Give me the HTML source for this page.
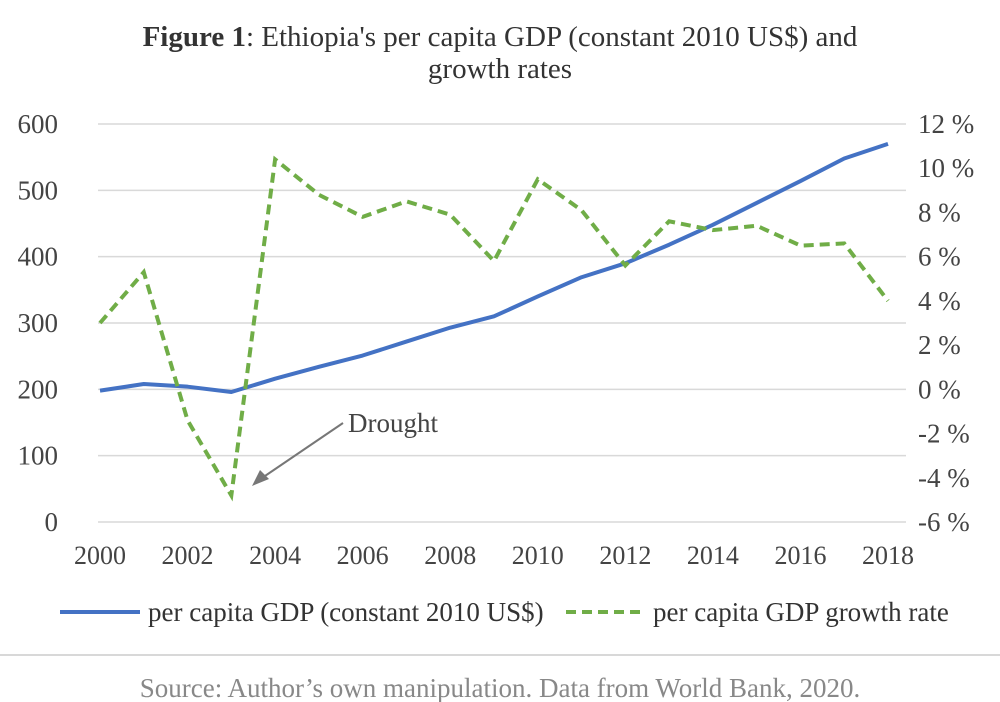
<!DOCTYPE html>
<html><head><meta charset="utf-8"><style>
body{margin:0;background:#fff;}
svg{display:block;font-family:"Liberation Serif",serif;}
</style></head><body>
<svg id="chart" width="1000" height="702">
<text x="500" y="46" text-anchor="middle" font-size="29" fill="#333"><tspan font-weight="bold">Figure 1</tspan>: Ethiopia's per capita GDP (constant 2010 US$) and</text>
<text x="500" y="78" text-anchor="middle" font-size="29" fill="#333">growth rates</text>
<g id="grid"></g><g id="axes"></g><g id="series"></g>
<text x="348" y="432" font-size="27" fill="#444">Drought</text>
<line x1="343" y1="423" x2="262" y2="478" stroke="#777" stroke-width="2"/>
<polygon points="252,486 260,470 269,479" fill="#777"/>
<line x1="60" y1="612" x2="140" y2="612" stroke="#4472c4" stroke-width="4"/>
<text x="148" y="621" font-size="27" fill="#333">per capita GDP (constant 2010 US$)</text>
<line x1="566" y1="612" x2="646" y2="612" stroke="#70ad47" stroke-width="4" stroke-dasharray="10,6"/>
<text x="653" y="621" font-size="27" fill="#333">per capita GDP growth rate</text>
<line x1="0" y1="655" x2="1000" y2="655" stroke="#ccc" stroke-width="1.5"/>
<text x="500" y="697" text-anchor="middle" font-size="27" fill="#888">Source: Author’s own manipulation. Data from World Bank, 2020.</text>
</svg>
<script>
const years=[2000,2001,2002,2003,2004,2005,2006,2007,2008,2009,2010,2011,2012,2013,2014,2015,2016,2017,2018];
const gdp=[198,208,204,196,216,234,251,272,293,310,340,369,390,418,448,481,514,548,570];
const growth=[3.0,5.3,-1.4,-4.8,10.4,8.8,7.8,8.5,7.9,5.8,9.5,8.1,5.6,7.6,7.2,7.4,6.5,6.6,4.0];
const leftTicks=[0,100,200,300,400,500,600];
const rightTicks=[-6,-4,-2,0,2,4,6,8,10,12];
const xTicks=[2000,2002,2004,2006,2008,2010,2012,2014,2016,2018];
const NS="http://www.w3.org/2000/svg";
const X0=100,X1=888,YT=124,YB=522;
const xs=y=>X0+(y-2000)/(2018-2000)*(X1-X0);
const yl=v=>YB-v/600*(YB-YT);
const yr=v=>YB-(v+6)/18*(YB-YT);
function mk(t,a,p){const e=document.createElementNS(NS,t);for(const k in a)e.setAttribute(k,a[k]);p.appendChild(e);return e;}
const grid=document.getElementById('grid'),axes=document.getElementById('axes'),ser=document.getElementById('series');
leftTicks.forEach(v=>{
 const l=mk('line',{x1:98,x2:906,y1:yl(v),y2:yl(v),stroke:'#d9d9d9','stroke-width':1.5},grid);
 
 
 const t=mk('text',{x:58,y:yl(v)+9,'text-anchor':'end','font-size':27,fill:'#444'},axes);t.textContent=v;
 
 
});
rightTicks.forEach(v=>{
 const t=mk('text',{x:918,y:yr(v)+9,'font-size':27,fill:'#444'},axes);t.textContent=v+' %';
 
 
});
xTicks.forEach(v=>{
 const t=mk('text',{x:xs(v),y:564,'text-anchor':'middle','font-size':26,fill:'#444'},axes);t.textContent=v;
 
 
});
const p1=mk('polyline',{points:years.map((y,i)=>xs(y)+','+yl(gdp[i])).join(' '),fill:'none',stroke:'#4472c4','stroke-width':4,'stroke-linejoin':'round'},ser);


const p2=mk('polyline',{points:years.map((y,i)=>xs(y)+','+yr(growth[i])).join(' '),fill:'none',stroke:'#70ad47','stroke-width':4,'stroke-dasharray':'10,6'},ser);


</script>
</body></html>
